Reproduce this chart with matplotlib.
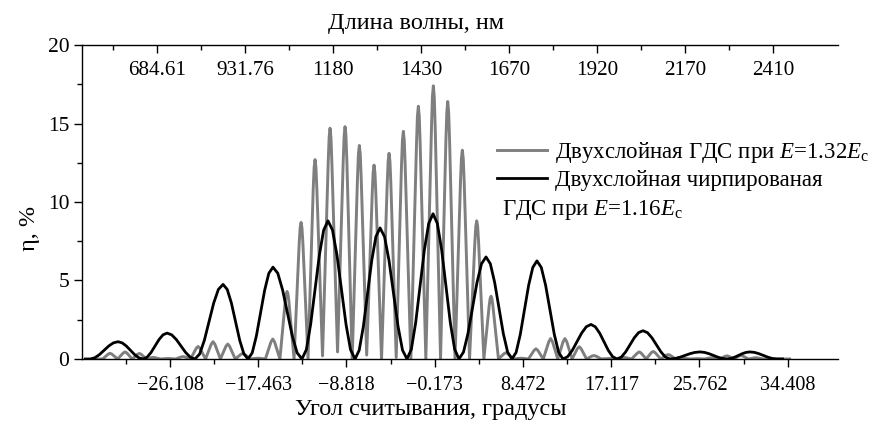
import matplotlib
matplotlib.use("Agg")
import matplotlib.pyplot as plt
from matplotlib.ticker import FixedLocator

plt.rcParams['font.family'] = ['Liberation Serif', 'DejaVu Serif']
plt.rcParams['mathtext.fontset'] = 'custom'
plt.rcParams['mathtext.rm'] = 'Liberation Serif'
plt.rcParams['mathtext.it'] = 'Liberation Serif:italic'

# ---- data ----
# gray: two-layer HDS at E = 1.32 Ec
gray_x = [-33.40, -32.70,
          -32.16, -31.98, -31.80, -31.245,
          -30.69, -30.51, -30.33, -29.81,
          -29.29, -29.11, -28.93, -28.44,
          -27.95, -27.77, -27.59, -27.035,
          -26.48, -26.30, -26.12, -25.565,
          -25.01, -24.83, -24.65, -24.095,
          -23.54, -23.36, -23.18, -22.625,
          -22.07, -21.89, -21.71, -21.17,
          -20.63, -20.45, -20.27, -19.715,
          -19.16, -18.98, -18.80, -18.235,
          -17.67, -17.49, -17.31, -16.765,
          -16.22, -16.04, -15.86, -15.34,
          -14.82, -14.73, -14.64, -14.55, -14.46, -13.955,
          -13.45, -13.36, -13.27, -13.18, -13.09, -12.585,
          -12.08, -11.99, -11.90, -11.81, -11.72, -11.165,
          -10.61, -10.52, -10.43, -10.34, -10.25, -9.695,
          -9.14, -9.05, -8.96, -8.87, -8.78, -8.26,
          -7.74, -7.65, -7.56, -7.47, -7.38, -6.84,
          -6.30, -6.21, -6.12, -6.03, -5.94, -5.385,
          -4.83, -4.74, -4.65, -4.56, -4.47, -3.95,
          -3.43, -3.34, -3.25, -3.16, -3.07, -2.515,
          -1.96, -1.87, -1.78, -1.69, -1.60, -1.045,
          -0.49, -0.40, -0.31, -0.22, -0.13, 0.395,
          0.92, 1.01, 1.10, 1.19, 1.28, 1.815,
          2.35, 2.44, 2.53, 2.62, 2.71, 3.235,
          3.76, 3.85, 3.94, 4.03, 4.12, 4.64,
          5.16, 5.25, 5.34, 5.43, 5.52, 6.07,
          6.62, 6.80, 6.98, 7.535,
          8.09, 8.27, 8.45, 9.005,
          9.56, 9.74, 9.92, 10.46,
          11.00, 11.18, 11.36, 11.88,
          12.40, 12.58, 12.76, 13.28,
          13.80, 13.98, 14.16, 14.70,
          15.24, 15.42, 15.60, 16.155,
          16.71, 16.89, 17.07, 17.625,
          18.18, 18.36, 18.54, 19.11,
          19.68, 19.86, 20.04, 20.545,
          21.05, 21.23, 21.41, 21.965,
          22.52, 22.70, 22.88, 23.42,
          23.96, 24.14, 24.32, 24.825,
          25.33, 25.51, 25.69, 26.245,
          26.80, 26.98, 27.16, 27.715,
          28.27, 28.45, 28.63, 29.135,
          29.64, 29.82, 30.00, 30.555,
          31.11, 31.29, 31.47, 32.00,
          34.60]
gray_y = [0.0, 0.0,
          0.31, 0.36, 0.31, 0.0,
          0.38, 0.45, 0.38, 0.0,
          0.30, 0.35, 0.30, 0.0,
          0.085, 0.10, 0.085, 0.0,
          0.025, 0.03, 0.025, 0.0,
          0.13, 0.15, 0.13, 0.0,
          0.68, 0.80, 0.68, 0.0,
          0.94, 1.10, 0.94, 0.0,
          0.81, 0.95, 0.81, 0.0,
          0.30, 0.35, 0.30, 0.0,
          0.04, 0.05, 0.04, 0.0,
          1.08, 1.27, 1.08, 0.0,
          3.66, 4.13, 4.30, 4.13, 3.66, 0.0,
          7.40, 8.35, 8.70, 8.35, 7.40, 0.0,
          10.80, 12.19, 12.70, 12.19, 10.80, 0.20,
          12.50, 14.11, 14.70, 14.11, 12.50, 0.45,
          12.58, 14.21, 14.80, 14.21, 12.58, 0.0,
          11.56, 13.06, 13.60, 13.06, 11.56, 0.25,
          10.50, 11.86, 12.35, 11.86, 10.50, 0.0,
          11.14, 12.58, 13.10, 12.58, 11.14, 0.10,
          12.33, 13.92, 14.50, 13.92, 12.33, 0.0,
          13.69, 15.46, 16.10, 15.46, 13.69, 0.0,
          14.79, 16.70, 17.40, 16.70, 14.79, 0.0,
          13.94, 15.74, 16.40, 15.74, 13.94, 0.0,
          11.31, 12.77, 13.30, 12.77, 11.31, 0.0,
          7.48, 8.45, 8.80, 8.45, 7.48, 0.0,
          3.40, 3.84, 4.00, 3.84, 3.40, 0.0,
          0.34, 0.40, 0.34, 0.0,
          0.04, 0.05, 0.04, 0.0,
          0.55, 0.65, 0.55, 0.0,
          1.10, 1.30, 1.10, 0.0,
          1.10, 1.30, 1.10, 0.0,
          0.66, 0.78, 0.66, 0.0,
          0.19, 0.22, 0.19, 0.0,
          0.025, 0.03, 0.025, 0.0,
          0.085, 0.10, 0.085, 0.0,
          0.38, 0.45, 0.38, 0.0,
          0.41, 0.48, 0.41, 0.0,
          0.24, 0.28, 0.24, 0.0,
          0.04, 0.05, 0.04, 0.0,
          0.017, 0.02, 0.017, 0.0,
          0.07, 0.08, 0.07, 0.0,
          0.17, 0.20, 0.17, 0.0,
          0.19, 0.22, 0.19, 0.0,
          0.07, 0.08, 0.07, 0.0,
          0.0]

# black: two-layer chirped HDS at E = 1.16 Ec
black_x = [-34.40, -33.94,
           -33.483, -33.027, -32.57, -32.113, -31.657, -31.20,
           -30.792, -30.383, -29.975, -29.567, -29.158, -28.75,
           -28.358, -27.967, -27.575, -27.183, -26.792, -26.40,
           -25.943, -25.487, -25.03, -24.573, -24.117, -23.66,
           -23.202, -22.743, -22.285, -21.827, -21.368, -20.91,
           -20.502, -20.093, -19.685, -19.277, -18.868, -18.46,
           -18.053, -17.647, -17.24, -16.833, -16.427, -16.02,
           -15.547, -15.073, -14.60, -14.127, -13.653, -13.18,
           -12.755, -12.33, -11.905, -11.48, -11.055, -10.63,
           -10.188, -9.747, -9.305, -8.863, -8.422, -7.98,
           -7.572, -7.163, -6.755, -6.347, -5.938, -5.53,
           -5.09, -4.65, -4.21, -3.77, -3.33, -2.89,
           -2.465, -2.04, -1.615, -1.19, -0.765, -0.34,
           0.083, 0.507, 0.93, 1.353, 1.777, 2.20,
           2.642, 3.083, 3.525, 3.967, 4.408, 4.85,
           5.273, 5.697, 6.12, 6.543, 6.967, 7.39,
           7.798, 8.207, 8.615, 9.023, 9.432, 9.84,
           10.265, 10.69, 11.115, 11.54, 11.965, 12.39,
           12.847, 13.303, 13.76, 14.217, 14.673, 15.13,
           15.555, 15.98, 16.405, 16.83, 17.255, 17.68,
           18.103, 18.527, 18.95, 19.373, 19.797, 20.22,
           20.662, 21.103, 21.545, 21.987, 22.428, 22.87,
           23.36, 23.85, 24.34, 24.83, 25.32, 25.81,
           26.25, 26.69, 27.13, 27.57, 28.01, 28.45,
           28.825, 29.20, 29.575, 29.95, 30.325, 30.70,
           31.142, 31.583, 32.025, 32.467, 32.908, 33.35,
           33.90]
black_y = [0.0, 0.0,
           0.074, 0.275, 0.55, 0.825, 1.026, 1.10,
           1.026, 0.825, 0.55, 0.275, 0.074, 0.0,
           0.111, 0.413, 0.825, 1.238, 1.539, 1.65,
           1.539, 1.238, 0.825, 0.413, 0.111, 0.0,
           0.318, 1.188, 2.375, 3.563, 4.432, 4.75,
           4.432, 3.563, 2.375, 1.188, 0.318, 0.0,
           0.392, 1.463, 2.925, 4.388, 5.458, 5.85,
           5.458, 4.388, 2.925, 1.463, 0.392, 0.0,
           0.590, 2.20, 4.40, 6.60, 8.21, 8.80,
           8.21, 6.60, 4.40, 2.20, 0.590, 0.0,
           0.559, 2.088, 4.175, 6.263, 7.791, 8.35,
           7.791, 6.263, 4.175, 2.088, 0.559, 0.0,
           0.620, 2.313, 4.625, 6.938, 8.630, 9.25,
           8.630, 6.938, 4.625, 2.313, 0.620, 0.0,
           0.436, 1.625, 3.25, 4.875, 6.065, 6.50,
           6.065, 4.875, 3.25, 1.625, 0.436, 0.0,
           0.419, 1.563, 3.125, 4.688, 5.831, 6.25,
           5.831, 4.688, 3.125, 1.563, 0.419, 0.0,
           0.147, 0.55, 1.10, 1.65, 2.053, 2.20,
           2.053, 1.65, 1.10, 0.55, 0.147, 0.0,
           0.121, 0.45, 0.90, 1.35, 1.679, 1.80,
           1.679, 1.35, 0.90, 0.45, 0.121, 0.0,
           0.030, 0.113, 0.225, 0.338, 0.420, 0.45,
           0.420, 0.338, 0.225, 0.113, 0.030, 0.0,
           0.030, 0.113, 0.225, 0.338, 0.420, 0.45,
           0.420, 0.338, 0.225, 0.113, 0.030, 0.0,
           0.0]

bottom_ticks = [-26.108, -17.463, -8.818, -0.173, 8.472, 17.117, 25.762, 34.408]
bottom_labels = ['\u221226.108', '\u221217.463', '\u22128.818', '\u22120.173',
                 '8.472', '17.117', '25.762', '34.408']
top_ticks = [-27.38, -18.76, -10.14, -1.52, 7.10, 15.72, 24.34, 32.96]
top_labels = ['684.61', '931.76', '1180', '1430', '1670', '1920', '2170', '2410']
y_ticks = [0, 5, 10, 15, 20]

label_gray = 'Двухслойная ГДС при $E$=1.32$E_{\\mathrm{c}}$'
label_black = 'Двухслойная чирпированая'
label_black2 = 'ГДС при $E$=1.16$E_{\\mathrm{c}}$'

# ---- figure ----
fig = plt.figure(figsize=(8.79, 4.21), dpi=100)
ax = fig.add_axes([0.093, 0.1473, 0.860, 0.7458])

ax.plot(gray_x, gray_y, color='#7f7f7f', lw=2.1, label=label_gray, zorder=2)
ax.plot(black_x, black_y, color='black', lw=2.0, label=label_black, zorder=3)

xlim = (-34.753, 39.3)
ax.set_xlim(*xlim)
ax.set_ylim(0, 20)

ax.spines['right'].set_visible(False)
for s in ('left', 'bottom', 'top'):
    ax.spines[s].set_linewidth(1.0)

ax.set_xticks(bottom_ticks)
ax.set_xticklabels(bottom_labels)
ax.xaxis.set_minor_locator(FixedLocator([(a + b) / 2 for a, b in zip([bottom_ticks[0] - 8.645] + bottom_ticks[:-1], bottom_ticks)]))
ax.set_yticks(y_ticks)
ax.yaxis.set_minor_locator(FixedLocator([2.5, 7.5, 12.5, 17.5]))
ax.tick_params(axis='both', which='major', direction='out', length=6, width=1.0,
               labelsize=14.5, pad=3)
ax.tick_params(axis='y', which='major', labelsize=15.5)
ax.tick_params(axis='x', which='major', pad=6)
ax.tick_params(axis='both', which='minor', direction='out', length=3.5, width=1.0)
ax.tick_params(axis='x', top=False, which='both')

ax2 = ax.twiny()
ax2.set_xlim(*xlim)
for s in ('left', 'right', 'bottom', 'top'):
    ax2.spines[s].set_visible(False)
ax2.set_xticks(top_ticks)
ax2.set_xticklabels(top_labels)
ax2.xaxis.set_minor_locator(FixedLocator([t - 4.31 for t in top_ticks]))
ax2.tick_params(axis='x', which='major', direction='in', length=6, width=1.0,
                labelsize=15.2, pad=-25.5)
ax2.tick_params(axis='x', which='minor', direction='in', length=3.5, width=1.0)

fig.text(416.5 / 879, 1 - 24 / 421, 'Длина волны, нм', ha='center', va='center', fontsize=17.5)
fig.text(430.5 / 879, 1 - 409 / 421, 'Угол считывания, градусы', ha='center', va='center', fontsize=17.5)
fig.text(30 / 879, 1 - 228 / 421, 'η, %', ha='center', va='center', rotation=90, fontsize=17.5)

leg = ax.legend(loc='upper left', bbox_to_anchor=(497 / 879, 1 - 140 / 421),
                bbox_transform=fig.transFigure, frameon=False, fontsize=16.5,
                handlelength=2.2, handletextpad=0.35, labelspacing=0.2,
                borderpad=0, borderaxespad=0)
fig.text(502 / 879, 1 - 210 / 421, label_black2, ha='left', va='center', fontsize=16.5)

fig.savefig('out.png', dpi=100)
